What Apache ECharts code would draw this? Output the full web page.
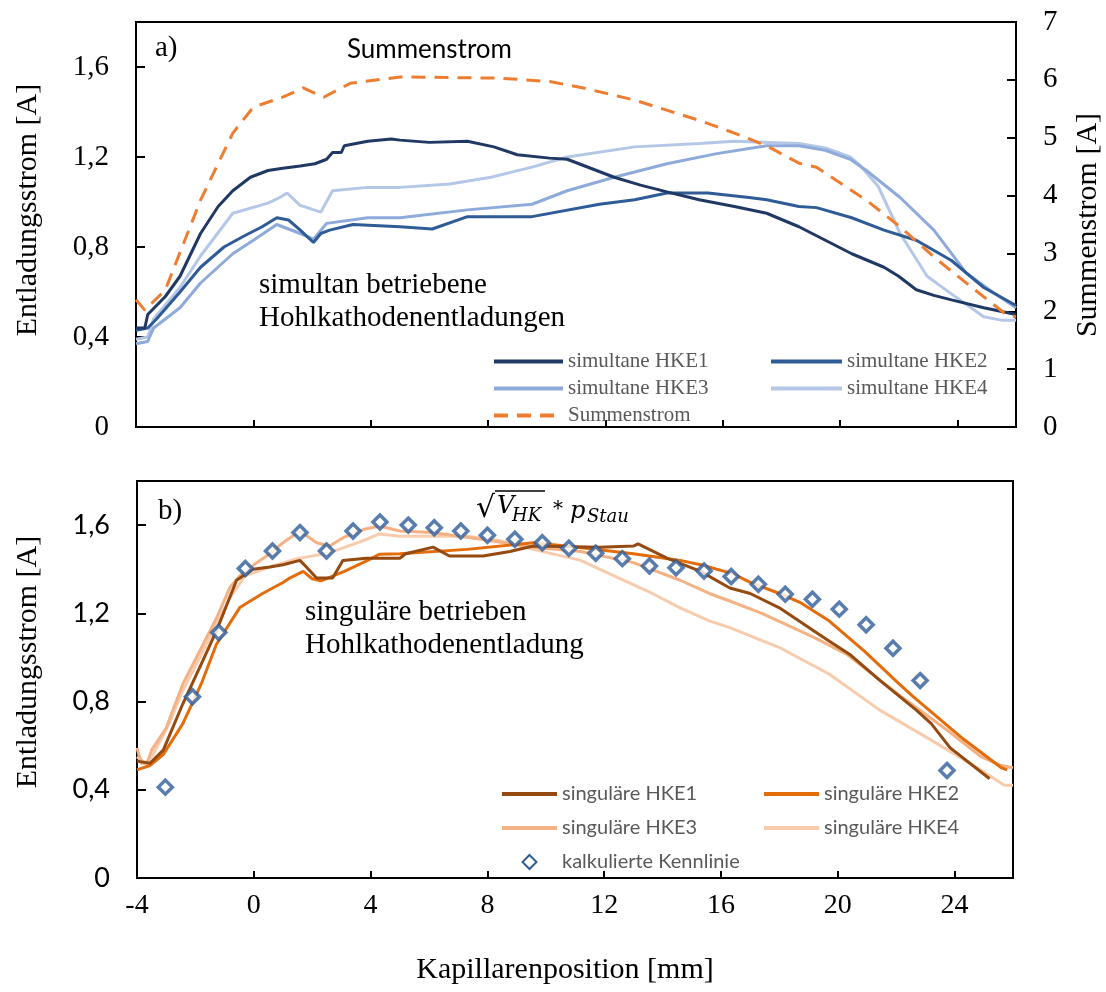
<!DOCTYPE html>
<html>
<head>
<meta charset="utf-8">
<title>Entladungsstrom</title>
<script src="https://cdn.jsdelivr.net/npm/echarts@6.0.0/dist/echarts.min.js"></script>
<style>
  html, body { margin: 0; padding: 0; background: #fff; }
  #chart { width: 1106px; height: 992px; }
</style>
</head>
<body>
<div id="chart"></div>
<script>
// ---- data ----
// a) simultan betriebene HKE, [Kapillarenposition mm, Strom A]
const simHKE1 = [[-4,0.44],[-3.7,0.44],[-3.6,0.5],[-3,0.58],[-2.5,0.67],[-1.8,0.86],[-1.2,0.98],[-0.7,1.05],[-0.1,1.11],[0.5,1.14],[1,1.15],[1.6,1.16],[2.1,1.17],[2.5,1.19],[2.7,1.22],[3,1.22],[3.1,1.25],[3.9,1.27],[4.7,1.28],[5,1.275],[6,1.265],[7.3,1.27],[8.2,1.245],[9,1.21],[10.1,1.195],[10.7,1.19],[11.5,1.15],[12.3,1.11],[13.2,1.075],[14.1,1.045],[15.2,1.01],[16.4,0.98],[17.5,0.95],[18.6,0.89],[19.5,0.83],[20.4,0.77],[21.5,0.71],[22,0.67],[22.6,0.61],[23.2,0.585],[23.8,0.565],[24.9,0.53],[26,0.5]];
const simHKE2 = [[-4,0.43],[-3.6,0.44],[-3.3,0.48],[-2.5,0.6],[-1.8,0.71],[-1,0.8],[-0.3,0.85],[0.3,0.89],[0.8,0.93],[1.2,0.92],[1.6,0.875],[2.05,0.82],[2.3,0.86],[2.6,0.875],[3.4,0.9],[5,0.89],[6.1,0.88],[7.3,0.935],[9.5,0.935],[11.8,0.99],[13,1.01],[14.1,1.04],[15.5,1.04],[16.9,1.02],[17.5,1.01],[18.6,0.98],[19.2,0.975],[20.4,0.93],[21.5,0.875],[22.6,0.83],[23.8,0.74],[24.9,0.62],[26,0.54]];
const simHKE3 = [[-4,0.37],[-3.6,0.38],[-3.4,0.44],[-2.5,0.53],[-1.8,0.64],[-0.7,0.77],[0,0.83],[0.8,0.9],[1.6,0.86],[2.05,0.835],[2.5,0.905],[3.9,0.93],[5,0.93],[7.3,0.965],[9.5,0.99],[10.7,1.05],[12.3,1.11],[14.1,1.17],[15.8,1.215],[17.5,1.25],[18.6,1.25],[19.5,1.23],[20.35,1.19],[20.9,1.14],[22.05,1.02],[23.2,0.875],[24.3,0.685],[25.2,0.6],[26,0.53]];
const simHKE4 = [[-4,0.39],[-3.6,0.4],[-3.4,0.48],[-2.5,0.62],[-1.8,0.76],[-0.7,0.95],[0.5,0.995],[0.9,1.02],[1.15,1.04],[1.6,0.985],[2.3,0.955],[2.7,1.05],[3.9,1.065],[5,1.065],[6.7,1.08],[8.1,1.11],[9.5,1.155],[10.7,1.2],[13,1.245],[15.2,1.26],[16.4,1.27],[18.6,1.26],[19.5,1.24],[20.35,1.2],[20.7,1.16],[21.3,1.07],[22.05,0.86],[22.97,0.67],[23.76,0.595],[24.9,0.49],[25.5,0.475],[26,0.475]];
// Summenstrom, rechte Achse
const summenstrom = [[-4,2.2],[-3.7,2.02],[-3,2.37],[-1.8,3.92],[-0.7,5.08],[0,5.53],[1,5.7],[1.7,5.86],[2.4,5.7],[3.3,5.94],[5,6.05],[8.4,6.03],[10.1,5.97],[11.25,5.86],[13,5.65],[15.2,5.3],[16.4,5.08],[17.5,4.86],[18.6,4.56],[19.2,4.49],[20.9,3.92],[22.05,3.46],[23.2,2.94],[24.3,2.49],[25.6,1.97],[26,1.9]];

// b) singulär betriebene HKE
const singHKE1 = [[-4,0.53],[-3.56,0.52],[-3.1,0.58],[-2.43,0.79],[-1.8,0.97],[-1.28,1.12],[-0.59,1.35],[-0.03,1.4],[0.55,1.41],[1,1.42],[1.58,1.44],[1.8,1.41],[2.15,1.36],[2.7,1.36],[3.05,1.44],[3.86,1.45],[5,1.45],[5.2,1.47],[6.14,1.5],[6.7,1.46],[7.85,1.46],[8.77,1.48],[9.57,1.505],[11.86,1.5],[13,1.505],[13.16,1.515],[14.15,1.45],[15.3,1.39],[16.3,1.315],[17,1.29],[18,1.225],[19.3,1.11],[19.7,1.075],[20.4,1.015],[21.45,0.895],[22.7,0.76],[23.2,0.7],[23.85,0.59],[25.2,0.45]];
const singHKE2 = [[-4,0.49],[-3.56,0.51],[-3.1,0.56],[-2.43,0.7],[-1.8,0.88],[-1.28,1.06],[-0.48,1.226],[0.3,1.29],[1,1.34],[1.23,1.36],[1.69,1.39],[2,1.357],[2.3,1.347],[3.1,1.39],[3.9,1.44],[4.3,1.468],[5,1.47],[7.3,1.49],[9.57,1.52],[10.7,1.505],[13,1.47],[14.6,1.44],[15.3,1.42],[16.4,1.38],[17,1.34],[18,1.29],[18.7,1.25],[19.7,1.166],[20.9,1.03],[22.1,0.88],[22.6,0.82],[23.27,0.745],[24.3,0.63],[25.6,0.5],[25.8,0.49]];
const singHKE3 = [[-4,0.59],[-3.85,0.52],[-3.65,0.52],[-3.5,0.58],[-3,0.68],[-2.43,0.88],[-1.85,1.03],[-1.27,1.18],[-0.82,1.317],[-0.48,1.37],[0,1.42],[0.44,1.46],[1,1.52],[1.58,1.573],[2.15,1.52],[2.6,1.505],[3.06,1.543],[3.75,1.58],[4.3,1.596],[5,1.573],[6.1,1.566],[7.85,1.535],[9.57,1.5],[11.2,1.48],[13,1.43],[14.6,1.35],[15.6,1.29],[16.3,1.256],[17.4,1.2],[19.2,1.09],[20.3,1.015],[22.05,0.835],[23.75,0.67],[24.9,0.55],[25.6,0.51],[26,0.5]];
const singHKE4 = [[-4,0.55],[-3.7,0.52],[-3.45,0.56],[-2.9,0.7],[-2.43,0.85],[-1.85,1.0],[-1.2,1.17],[-0.82,1.27],[-0.3,1.37],[0.65,1.415],[1.46,1.447],[2.6,1.475],[3.75,1.53],[4.3,1.56],[5,1.55],[7.3,1.55],[8.4,1.53],[9.57,1.49],[11.2,1.44],[12,1.39],[13.5,1.3],[14.6,1.225],[15.6,1.166],[16.3,1.135],[18,1.045],[19.7,0.925],[21.45,0.76],[23.2,0.625],[24.9,0.49],[25.7,0.42],[26,0.42]];
// kalkulierte Kennlinie (Rauten)
const kennlinieX = [-3.03,-2.1,-1.2,-0.29,0.64,1.58,2.49,3.4,4.32,5.29,6.18,7.09,8,8.94,9.88,10.79,11.71,12.62,13.55,14.46,15.42,16.35,17.28,18.2,19.13,20.05,20.97,21.89,22.82,23.74];
const kennlinieY = [0.412,0.822,1.113,1.403,1.483,1.566,1.483,1.573,1.614,1.6,1.588,1.573,1.554,1.536,1.52,1.495,1.472,1.448,1.415,1.407,1.392,1.367,1.332,1.287,1.264,1.219,1.148,1.042,0.895,0.487];

const SERIF = '"Liberation Serif", "Times New Roman", serif';
const SANS = 'Lato, "Open Sans", sans-serif';
const MATH = '"DejaVu Serif", serif';
const DIAMOND = 'path://M0,-1L1,0L0,1L-1,0Z';

const commaFmt = v => v === 0 ? '0' : v.toFixed(1).replace('.', ',');

function lineSeries(name, data, color, xi, yi, extra) {
  return Object.assign({
    name: name,
    type: 'line',
    xAxisIndex: xi,
    yAxisIndex: yi,
    data: data,
    symbol: 'none',
    showSymbol: false,
    color: color,
    lineStyle: { color: color, width: 3 },
    animation: false
  }, extra || {});
}

function txt(text, x, y, size, family, extra) {
  return {
    type: 'text', x: x, y: y,
    rotation: (extra && extra.rotation) || 0,
    style: Object.assign({
      text: text, fill: '#000', fontSize: size, fontFamily: family,
      align: 'left', verticalAlign: 'middle'
    }, (extra && extra.style) || {})
  };
}

const chart = echarts.init(document.getElementById('chart'));

const tickStyle = { inside: true, length: 9, lineStyle: { color: '#000', width: 2 } };
const axisLine = { show: true, onZero: false, lineStyle: { color: '#000', width: 2 } };
// nur die Linie im Legendensymbol, kein Punkt
const hideDot = { opacity: 0 };
const legendLine = { width: 4 };

const option = {
  animation: false,
  backgroundColor: '#fff',
  grid: [
    { left: 136, top: 22, width: 880, height: 405, show: true, borderColor: '#000', borderWidth: 2 },
    { left: 137, top: 481, width: 876, height: 397, show: true, borderColor: '#000', borderWidth: 2 }
  ],
  xAxis: [
    {
      gridIndex: 0, type: 'value', min: -4, max: 26, interval: 4,
      axisLine: axisLine, axisTick: Object.assign({}, tickStyle, { length: 7 }),
      axisLabel: { show: false }, splitLine: { show: false }
    },
    {
      gridIndex: 1, type: 'value', min: -4, max: 26, interval: 4,
      axisLine: axisLine, axisTick: Object.assign({}, tickStyle, { length: 7 }),
      axisLabel: { color: '#000', fontFamily: SERIF, fontSize: 28, margin: 14, showMaxLabel: false },
      splitLine: { show: false }
    }
  ],
  yAxis: [
    {
      gridIndex: 0, type: 'value', min: 0, max: 1.8, interval: 0.4,
      axisLine: axisLine, axisTick: tickStyle,
      axisLabel: { color: '#000', fontFamily: SERIF, fontSize: 29, margin: 27, formatter: commaFmt, showMaxLabel: false },
      splitLine: { show: false }
    },
    {
      gridIndex: 0, type: 'value', position: 'right', min: 0, max: 7, interval: 1,
      axisLine: axisLine, axisTick: tickStyle,
      axisLabel: { color: '#000', fontFamily: SERIF, fontSize: 29, margin: 27 },
      splitLine: { show: false }
    },
    {
      gridIndex: 1, type: 'value', min: 0, max: 1.8, interval: 0.4,
      axisLine: axisLine, axisTick: tickStyle,
      axisLabel: { color: '#000', fontFamily: SANS, fontSize: 27, margin: 27, formatter: commaFmt, showMaxLabel: false },
      splitLine: { show: false }
    }
  ],
  legend: [
    {
      data: ['simultane HKE1', 'simultane HKE3', 'Summenstrom'],
      left: 487, top: 346, orient: 'vertical', itemWidth: 69, itemHeight: 14, itemGap: 6,
      selectedMode: false, itemStyle: hideDot, lineStyle: legendLine,
      textStyle: { fontFamily: SERIF, fontSize: 21, color: '#595959' }
    },
    {
      data: ['simultane HKE2', 'simultane HKE4'],
      left: 764, top: 346, orient: 'vertical', itemWidth: 71, itemHeight: 14, itemGap: 6,
      selectedMode: false, itemStyle: hideDot, lineStyle: legendLine,
      textStyle: { fontFamily: SERIF, fontSize: 21, color: '#595959' }
    },
    {
      data: ['singuläre HKE1', 'singuläre HKE3',
        { name: 'kalkulierte Kennlinie', icon: DIAMOND, itemStyle: { opacity: 1 } }],
      left: 495, top: 779, orient: 'vertical', itemWidth: 55, itemHeight: 14, itemGap: 14,
      selectedMode: false, itemStyle: hideDot, lineStyle: legendLine, symbolKeepAspect: true,
      textStyle: { fontFamily: SANS, fontSize: 20, color: '#595959' }
    },
    {
      data: ['singuläre HKE2', 'singuläre HKE4'],
      left: 757, top: 779, orient: 'vertical', itemWidth: 55, itemHeight: 14, itemGap: 14,
      selectedMode: false, itemStyle: hideDot, lineStyle: legendLine,
      textStyle: { fontFamily: SANS, fontSize: 20, color: '#595959' }
    }
  ],
  series: [
    lineSeries('simultane HKE4', simHKE4, '#b4c7e7', 0, 0),
    lineSeries('simultane HKE3', simHKE3, '#8eaadb', 0, 0),
    lineSeries('simultane HKE2', simHKE2, '#2f5b96', 0, 0),
    lineSeries('simultane HKE1', simHKE1, '#203864', 0, 0),
    lineSeries('Summenstrom', summenstrom, '#ed7d31', 0, 1, {
      lineStyle: { color: '#ed7d31', width: 3, type: [14, 9] }
    }),
    lineSeries('singuläre HKE4', singHKE4, '#f8cbad', 1, 2),
    lineSeries('singuläre HKE3', singHKE3, '#f4b183', 1, 2),
    lineSeries('singuläre HKE2', singHKE2, '#e46c0a', 1, 2),
    lineSeries('singuläre HKE1', singHKE1, '#944a10', 1, 2),
    {
      name: 'kalkulierte Kennlinie',
      type: 'scatter',
      xAxisIndex: 1, yAxisIndex: 2,
      data: kennlinieX.map((x, i) => [x, kennlinieY[i]]),
      symbol: 'diamond',
      symbolSize: 14,
      itemStyle: { color: '#ffffff', borderColor: '#2e5d9a', borderWidth: 3.5 },
      z: 5
    }
  ],
  graphic: [
    txt('a)', 155, 48, 29, SERIF),
    txt('Summenstrom', 347, 50, 26, SANS),
    txt('simultan betriebene', 259, 285, 29, SERIF),
    txt('Hohlkathodenentladungen', 259, 318, 29, SERIF),
    txt('b)', 158, 511, 29, SERIF),
    txt('singuläre betrieben', 305, 612, 29, SERIF),
    txt('Hohlkathodenentladung', 305, 645, 29, SERIF),
    // Formel: sqrt(V_HK) * p_Stau
    txt('√', 476, 509, 30, MATH),
    { type: 'line', shape: { x1: 495, y1: 491, x2: 545, y2: 491 }, style: { stroke: '#000', lineWidth: 1.5 } },
    txt('V', 497, 507, 24, MATH, { style: { fontStyle: 'italic' } }),
    txt('HK', 512, 516, 18, MATH, { style: { fontStyle: 'italic' } }),
    txt('*', 553, 510, 20, MATH),
    txt('p', 570, 512, 24, MATH, { style: { fontStyle: 'italic' } }),
    txt('Stau', 587, 517, 18, MATH, { style: { fontStyle: 'italic' } }),
    // Achsentitel
    txt('Entladungsstrom [A]', 28, 210, 30, SERIF, { rotation: Math.PI / 2, style: { align: 'center' } }),
    txt('Entladungsstrom [A]', 28, 662, 30, SERIF, { rotation: Math.PI / 2, style: { align: 'center' } }),
    txt('Summenstrom [A]', 1088, 225, 30, SERIF, { rotation: Math.PI / 2, style: { align: 'center' } }),
    txt('Kapillarenposition [mm]', 565, 970, 30, SERIF, { style: { align: 'center' } })
  ]
};

chart.setOption(option);
</script>
</body>
</html>
